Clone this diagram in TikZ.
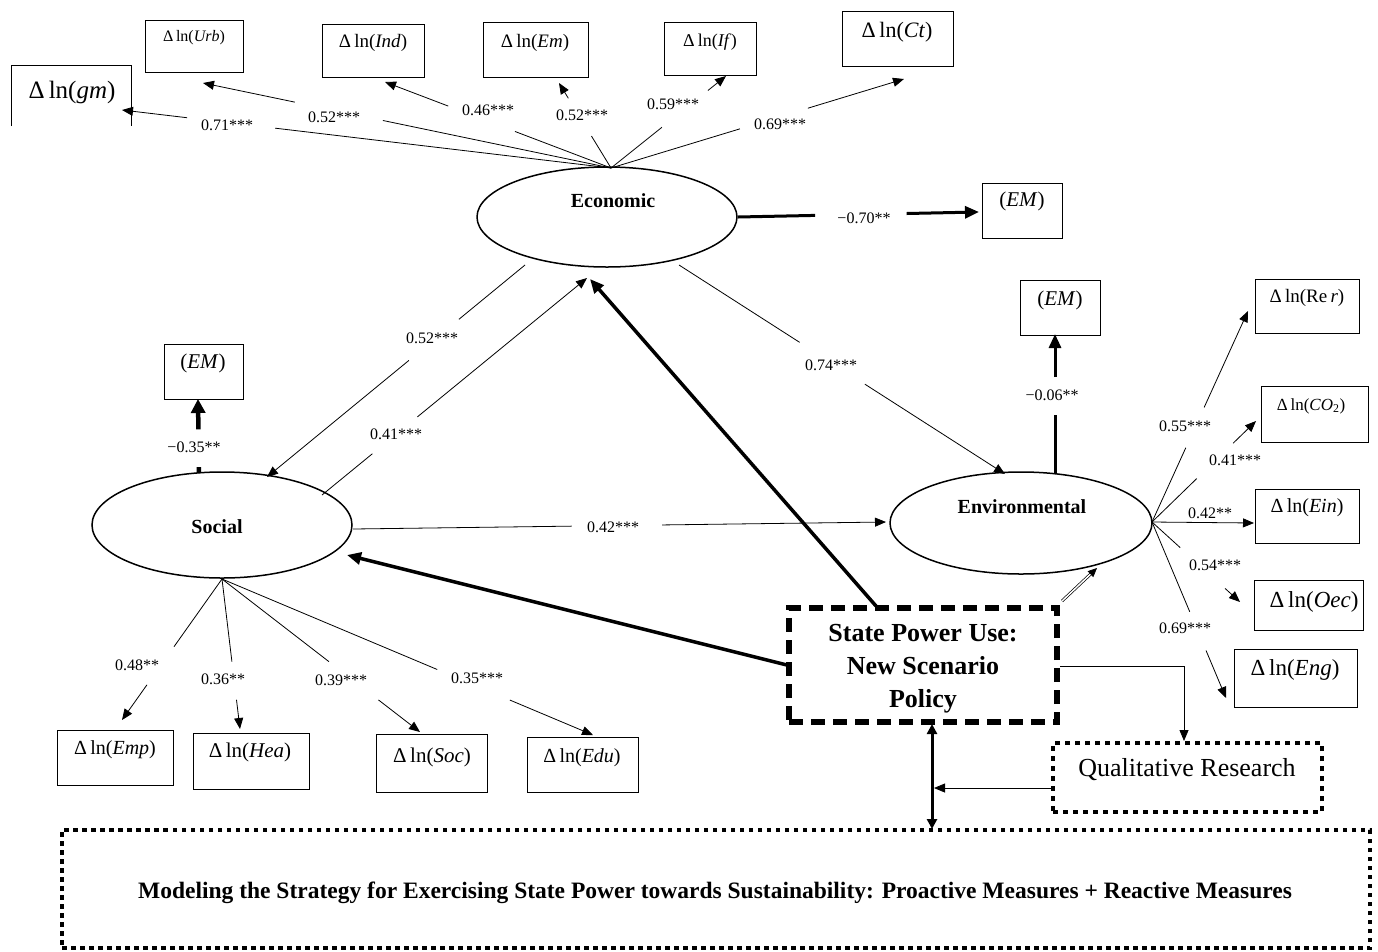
\documentclass[tikz,border=0pt]{standalone}
\usepackage{fontspec}
\setmainfont{Liberation Serif}
\usetikzlibrary{shapes.geometric,arrows.meta,calc}
\newcommand{\myfs}[1]{\fontsize{#1}{#1}\selectfont}
\newcommand{\gapline}[5]{%
  \draw[#1,arrows=-] (#2) -- ($(#2)!#4!(#3)$);
  \draw[#1] ($(#2)!#5!(#3)$) -- (#3);}
\begin{document}
\begin{tikzpicture}[x=1pt,y=-1pt,
  box/.style={draw,line width=0.9pt,inner sep=0pt},
  lat/.style={draw,ellipse,line width=1.5pt,inner sep=0pt},
  arr/.style={line width=0.8pt,-{Triangle[length=11pt,width=9pt]}},
  heavy/.style={line width=3pt,-{Triangle[length=14pt,width=12pt]}},
  lbl/.style={inner sep=1pt,font=\myfs{16}},
  ltxt/.style={inner sep=0pt,font=\bfseries\myfs{20}},
  vtxt/.style={inner sep=0pt},
]
\useasboundingbox (0,0) rectangle (1378,951);

% ---------- latent variables
\node[lat,minimum width=260pt,minimum height=100pt] (eco) at (607,217) {};
\node[lat,minimum width=260pt,minimum height=106pt] (soc) at (222,525) {};
\node[lat,minimum width=262pt,minimum height=102pt] (env) at (1021,523) {};
\node[ltxt] (ecot) at (613,201) {Economic};
\node[ltxt] (soct) at (217,527) {Social};
\node[ltxt] (envt) at (1022,507) {Environmental};

% ---------- top indicator boxes
\node[inner sep=0pt,minimum width=119pt,minimum height=60pt] (gm) at (71.5,96) {};
\draw[line width=0.9pt] (gm.south west) -- (gm.north west) -- (gm.north east) -- (gm.south east);
\node[vtxt,font=\myfs{25}] (gmt) at (72,92) {Δ\,ln(\textit{gm})};
\node[box,minimum width=98pt,minimum height=52pt] (urb) at (194,46) {};
\node[vtxt,font=\myfs{16}] (urbt) at (194,38) {Δ\,ln(\textit{Urb})};
\node[box,minimum width=102pt,minimum height=53pt] (ind) at (373,50.5) {};
\node[vtxt,font=\myfs{19}] (indt) at (373,43) {Δ\,ln(\textit{Ind})};
\node[box,minimum width=105pt,minimum height=55pt] (em) at (535.5,49.5) {};
\node[vtxt,font=\myfs{19}] (emt) at (535,43) {Δ\,ln(\textit{Em})};
\node[box,minimum width=92pt,minimum height=53pt] (if) at (710,48.5) {};
\node[vtxt,font=\myfs{18}] (ift) at (710,42) {Δ\,ln(\textit{If})};
\node[box,minimum width=111pt,minimum height=55pt] (ct) at (897.5,38.5) {};
\node[vtxt,font=\myfs{22}] (ctt) at (897,32) {Δ\,ln(\textit{Ct})};

% ---------- EM boxes
\node[box,minimum width=80pt,minimum height=55pt] (ecoem) at (1022,210.5) {};
\node[vtxt,font=\myfs{21}] (ecoemt) at (1022,201) {(\textit{EM})};
\node[box,minimum width=79pt,minimum height=55pt] (socem) at (203.5,371.5) {};
\node[vtxt,font=\myfs{21}] (socemt) at (203,363) {(\textit{EM})};
\node[box,minimum width=80pt,minimum height=55pt] (envem) at (1060,307.5) {};
\node[vtxt,font=\myfs{21}] (envemt) at (1060,300) {(\textit{EM})};

% ---------- environmental indicator boxes
\node[box,minimum width=104pt,minimum height=54pt] (rer) at (1307,306) {};
\node[vtxt,font=\myfs{19}] (rert) at (1307,298) {Δ\,ln(Re\,\textit{r})};
\node[box,minimum width=107pt,minimum height=56pt] (co) at (1314.5,414) {};
\node[vtxt,font=\myfs{17}] (cot) at (1311,406) {Δ\,ln(\textit{CO}\textsubscript{2})};
\node[box,minimum width=104pt,minimum height=54pt] (ein) at (1307,516) {};
\node[vtxt,font=\myfs{20}] (eint) at (1307,508) {Δ\,ln(\textit{Ein})};
\node[box,minimum width=109pt,minimum height=50pt] (oec) at (1308.5,605) {};
\node[vtxt,font=\myfs{23}] (oect) at (1314,602) {Δ\,ln(\textit{Oec})};
\node[box,minimum width=123pt,minimum height=58pt] (eng) at (1295.5,678) {};
\node[vtxt,font=\myfs{23}] (engt) at (1295,670) {Δ\,ln(\textit{Eng})};

% ---------- social indicator boxes
\node[box,minimum width=116pt,minimum height=55pt] (emp) at (115,757.5) {};
\node[vtxt,font=\myfs{20}] (empt) at (115,750) {Δ\,ln(\textit{Emp})};
\node[box,minimum width=116pt,minimum height=56pt] (hea) at (251,761) {};
\node[vtxt,font=\myfs{21}] (heat) at (250,752) {Δ\,ln(\textit{Hea})};
\node[box,minimum width=111pt,minimum height=58pt] (sob) at (431.5,763) {};
\node[vtxt,font=\myfs{21}] (sobt) at (432,757) {Δ\,ln(\textit{Soc})};
\node[box,minimum width=111pt,minimum height=55pt] (edu) at (582.5,764.5) {};
\node[vtxt,font=\myfs{20}] (edut) at (582,758) {Δ\,ln(\textit{Edu})};

% ---------- policy, research, strategy boxes
\node[vtxt,font=\bfseries\fontsize{26}{33}\selectfont,align=center] (statet) at (923,669) {State Power Use:\\New Scenario\\Policy};
\node[draw,line width=5.5pt,dash pattern=on 14pt off 8pt,minimum width=268pt,minimum height=114pt,inner sep=0pt] (state) at (923,665) {};
\node[draw,line width=4.5pt,dash pattern=on 5pt off 5pt,minimum width=269pt,minimum height=69pt,inner sep=0pt] (qual) at (1187.5,777.5) {};
\node[vtxt,font=\myfs{26}] (qualt) at (1187,770) {Qualitative Research};
\node[draw,line width=3.5pt,dash pattern=on 4.5pt off 4.5pt,minimum width=1308pt,minimum height=118pt,inner sep=0pt] (bot) at (716,889) {};
\node[vtxt,font=\bfseries\myfs{23.5}] (bott) at (715,893) {Modeling the Strategy for Exercising State Power towards Sustainability: Proactive Measures + Reactive Measures};

% ---------- hubs and tips
\coordinate (eh) at (611,168);
\coordinate (sh) at (222,579);
\coordinate (nh) at (1152,522);
\coordinate (tgm) at (122,110);
\coordinate (turb) at (203,83);
\coordinate (tind) at (385,82);
\coordinate (tem) at (559,83);
\coordinate (tif) at (726,76);
\coordinate (tct) at (904,79);
\coordinate (trer) at (1248,311);
\coordinate (tco) at (1256,421);
\coordinate (tein) at (1254,523);
\coordinate (toec) at (1240,602);
\coordinate (teng) at (1226,698);
\coordinate (temp) at (122,720);
\coordinate (thea) at (240,729);
\coordinate (tsoc) at (420,732);
\coordinate (tedu) at (593,735);

% economic indicators
\gapline{arr}{eh}{tgm}{0.687}{0.867}
\gapline{arr}{eh}{turb}{0.559}{0.775}
\gapline{arr}{eh}{tind}{0.425}{0.72}
\gapline{arr}{eh}{tem}{0.376}{0.82}
\gapline{arr}{eh}{tif}{0.443}{0.843}
\gapline{arr}{eh}{tct}{0.44}{0.672}
\node[lbl] at (227,125) {0.71***};
\node[lbl] at (334,117) {0.52***};
\node[lbl] at (488,110) {0.46***};
\node[lbl] at (582,115) {0.52***};
\node[lbl] at (673,104) {0.59***};
\node[lbl] at (780,124) {0.69***};

% environmental indicators
\gapline{arr}{nh}{trer}{0.352}{0.543}
\gapline{arr}{nh}{tco}{0.43}{0.78}
\draw[arr] (nh) -- (tein);
\gapline{arr}{nh}{toec}{0.32}{0.83}
\gapline{arr}{nh}{teng}{0.51}{0.73}
\node[lbl] at (1185,426) {0.55***};
\node[lbl] at (1235,460) {0.41***};
\node[lbl] at (1210,513) {0.42**};
\node[lbl] at (1215,565) {0.54***};
\node[lbl] at (1185,628) {0.69***};

% social indicators
\gapline{arr}{sh}{temp}{0.48}{0.75}
\gapline{arr}{sh}{thea}{0.55}{0.805}
\gapline{arr}{sh}{tsoc}{0.54}{0.79}
\gapline{arr}{sh}{tedu}{0.58}{0.776}
\node[lbl] at (137,665) {0.48**};
\node[lbl] at (223,679) {0.36**};
\node[lbl] at (341,680) {0.39***};
\node[lbl] at (477,678) {0.35***};

% EM paths
\coordinate (eE) at (738,217);
\coordinate (teem) at (979,212);
\gapline{heavy}{eE}{teem}{0.32}{0.70}
\node[lbl] at (864,218) {−0.70**};
\coordinate (sN) at (199,473);
\coordinate (tsem) at (198,399);
\gapline{line width=4.5pt,-{Triangle[length=14pt,width=14pt]}}{sN}{tsem}{0.08}{0.59}
\node[lbl] at (194,447) {−0.35**};
\coordinate (nN) at (1055,473);
\coordinate (tnem) at (1055,334);
\gapline{heavy}{nN}{tnem}{0.42}{0.69}
\node[lbl] at (1052,395) {−0.06**};

% structural paths
\coordinate (es1) at (525,265);
\coordinate (ts1) at (267,477);
\gapline{arr}{es1}{ts1}{0.256}{0.45}
\node[lbl] at (432,338) {0.52***};
\coordinate (se1) at (322,495);
\coordinate (te1) at (587,278);
\gapline{arr}{se1}{te1}{0.19}{0.36}
\node[lbl] at (396,434) {0.41***};
\coordinate (en1) at (679,265);
\coordinate (tn1) at (1005,474);
\gapline{arr}{en1}{tn1}{0.37}{0.57}
\node[lbl] at (831,365) {0.74***};
\coordinate (sn1) at (353,529);
\coordinate (tn2) at (886,522);
\gapline{arr}{sn1}{tn2}{0.41}{0.58}
\node[lbl] at (613,527) {0.42***};

% state power paths
\coordinate (stE) at (876,606);
\coordinate (tstE) at (590,279);
\draw[line width=3.5pt,-{Triangle[length=14pt,width=12pt]}] (stE) -- (tstE);
\coordinate (stS) at (787,665);
\coordinate (tstS) at (347,555);
\draw[line width=3.5pt,-{Triangle[length=14pt,width=12pt]}] (stS) -- (tstS);
\coordinate (stN) at (1062,601);
\coordinate (tstN) at (1097,568);
\draw[line width=0.7pt,double,double distance=1.5pt,-{Triangle[length=9pt,width=8pt]}] (stN) -- (tstN);
\coordinate (stQ) at (1060,666);
\coordinate (tq) at (1184,741);
\draw[arr] (stQ) -| (tq);
\coordinate (vtop) at (932,724);
\coordinate (vbot) at (932,829);
\draw[line width=3pt,{Triangle[length=10pt,width=10pt]}-{Triangle[length=10pt,width=10pt]}] (vtop) -- (vbot);
\coordinate (qW) at (1051,788);
\coordinate (vq) at (934,788);
\draw[arr] (qW) -- (vq);
\end{tikzpicture}
\end{document}
